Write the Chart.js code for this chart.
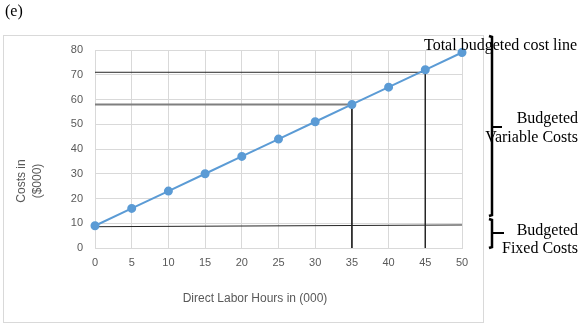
<!DOCTYPE html>
<html>
<head>
<meta charset="utf-8">
<script src="https://cdn.jsdelivr.net/npm/chart.js@4/dist/chart.umd.min.js"></script>
<style>
  html, body { margin: 0; padding: 0; background: #ffffff; }
  #wrap { position: relative; width: 582px; height: 324px; }
</style>
</head>
<body>
<div id="wrap"><canvas id="c"></canvas></div>
<script>
// Direct labour hours (000) and total budgeted cost ($000)
const laborHours = [0, 5, 10, 15, 20, 25, 30, 35, 40, 45, 50];
const totalCost  = [9, 16, 23, 30, 37, 44, 51, 58, 65, 72, 79];

// Guide lines read across to the cost axis
const guide45 = [{x: 0, y: 71}, {x: 45, y: 71}, {x: 45, y: 0}];
const guide35H = [{x: 0, y: 58}, {x: 35, y: 58}];
const guide35V = [{x: 35, y: 58}, {x: 35, y: 0}];
const fixedLine = [{x: 0, y: 8.6}, {x: 50, y: 9.3}];

// Axis ranges and labels
const xTicks = {min: 0, max: 50, step: 5};
const yTicks = {min: 0, max: 80, step: 10};
const xTitle = 'Direct Labor Hours in (000)';
const yTitle = ['Costs in', '($000)'];

const costPoints = laborHours.map((h, i) => ({x: h, y: totalCost[i]}));

const tickFont = {family: 'Liberation Sans, Arial, sans-serif', size: 11};
const serif = '16px "Liberation Serif", "Times New Roman", serif';

const decorations = {
  id: 'decorations',
  beforeDraw(chart) {
    const ctx = chart.ctx;
    ctx.save();
    ctx.strokeStyle = '#d9d9d9';
    ctx.lineWidth = 1;
    ctx.strokeRect(3.5, 35.5, 480, 287);
    ctx.restore();
  },
  afterDraw(chart) {
    const ctx = chart.ctx;
    const area = chart.chartArea;
    ctx.save();

    // axis titles
    ctx.fillStyle = '#595959';
    ctx.font = '12px "Liberation Sans", Arial, sans-serif';
    ctx.textAlign = 'center';
    ctx.textBaseline = 'middle';
    ctx.fillText(xTitle, 255, 299);
    ctx.save();
    ctx.translate(22, 181);
    ctx.rotate(-Math.PI / 2);
    ctx.fillText(yTitle[0], 0, 0);
    ctx.fillText(yTitle[1], 0, 16);
    ctx.restore();

    // part label
    ctx.fillStyle = '#000000';
    ctx.font = serif;
    ctx.textAlign = 'left';
    ctx.textBaseline = 'alphabetic';
    ctx.fillText('(e)', 5, 16);

    // braces
    const bx = area.right + 30;
    ctx.strokeStyle = '#000000';
    ctx.lineCap = 'butt';
    function brace(y1, ym, y2, tick) {
      ctx.lineWidth = 2.5;
      ctx.beginPath();
      ctx.moveTo(bx - 3, y1);
      ctx.lineTo(bx, y1 + 1);
      ctx.lineTo(bx, y2 - 1);
      ctx.lineTo(bx - 3, y2);
      ctx.stroke();
      ctx.lineWidth = 2;
      ctx.beginPath();
      ctx.moveTo(bx, ym);
      ctx.lineTo(bx + tick, ym);
      ctx.stroke();
    }
    brace(36, 127, 216, 10);
    brace(219, 233, 248, 12);

    // brace labels
    ctx.fillStyle = '#000000';
    ctx.font = serif;
    ctx.textAlign = 'left';
    ctx.fillText('Total budgeted cost line', 424, 50);
    ctx.textAlign = 'right';
    ctx.fillText('Budgeted', 578, 123);
    ctx.fillText('Variable Costs', 578, 142);
    ctx.fillText('Budgeted', 578, 235);
    ctx.fillText('Fixed Costs', 578, 253);
    ctx.restore();
  }
};

new Chart(document.getElementById('c'), {
  type: 'scatter',
  data: {
    datasets: [
      {
        data: costPoints,
        showLine: true,
        clip: false,
        borderColor: '#5b9bd5',
        backgroundColor: '#5b9bd5',
        borderWidth: 2,
        pointRadius: 3.5,
        pointHoverRadius: 3.5
      },
      {
        data: guide45,
        showLine: true,
        borderColor: '#262626',
        borderWidth: 1,
        pointRadius: 0
      },
      {
        data: guide35H,
        showLine: true,
        borderColor: '#7f7f7f',
        borderWidth: 2,
        pointRadius: 0
      },
      {
        data: guide35V,
        showLine: true,
        borderColor: '#262626',
        borderWidth: 1,
        pointRadius: 0
      },
      {
        data: fixedLine,
        showLine: true,
        borderColor: '#262626',
        borderWidth: 1,
        pointRadius: 0
      }
    ]
  },
  options: {
    responsive: true,
    maintainAspectRatio: false,
    animation: false,
    layout: {padding: {left: 0, top: 50, right: 120, bottom: 0}},
    plugins: {legend: {display: false}, tooltip: {enabled: false}},
    scales: {
      x: {
        type: 'linear',
        min: xTicks.min,
        max: xTicks.max,
        ticks: {stepSize: xTicks.step, color: '#595959', font: tickFont, padding: 8, maxRotation: 0},
        grid: {color: '#d9d9d9', drawTicks: false},
        border: {color: '#d9d9d9'},
        afterFit(scale) { scale.height = 76; }
      },
      y: {
        min: yTicks.min,
        max: yTicks.max,
        ticks: {stepSize: yTicks.step, color: '#595959', font: tickFont, padding: 12},
        grid: {color: '#d9d9d9', drawTicks: false},
        border: {color: '#d9d9d9'},
        afterFit(scale) { scale.width = 95; }
      }
    }
  },
  plugins: [decorations]
});
</script>
</body>
</html>
